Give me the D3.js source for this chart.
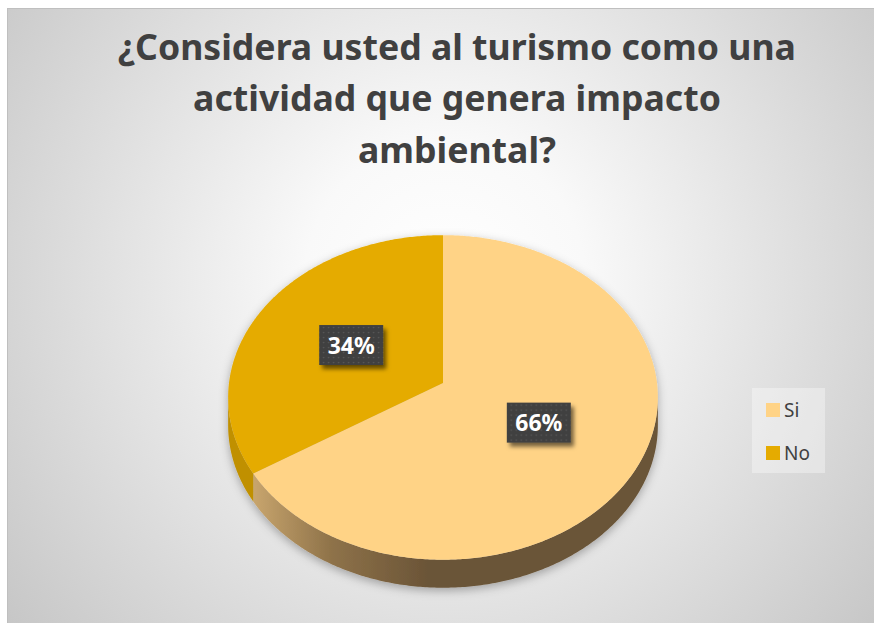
<!DOCTYPE html>
<html>
<head>
<meta charset="utf-8">
<script src="https://cdn.jsdelivr.net/npm/d3@7"></script>
<style>
  body { margin: 0; background: #fff; }
  svg { display: block; }
</style>
</head>
<body>
<div id="chart"></div>
<script>
// data
var categories = ["Si", "No"];
var values = [66, 34];
var titleLines = ["¿Considera usted al turismo como una", "actividad que genera impacto", "ambiental?"];

var width = 874, height = 623;

var svg = d3.select("#chart")
  .append("svg")
    .attr("width", width)
    .attr("height", height);

var defs = svg.append("defs");

// grey radial background like the excel chart area
var bg = defs.append("radialGradient")
    .attr("id", "bg")
    .attr("gradientUnits", "userSpaceOnUse")
    .attr("cx", 445).attr("cy", 280).attr("r", 560);
bg.append("stop").attr("offset", 0).attr("stop-color", "#ffffff");
bg.append("stop").attr("offset", 0.25).attr("stop-color", "#f9f9f9");
bg.append("stop").attr("offset", 0.72).attr("stop-color", "#d9d9d9");
bg.append("stop").attr("offset", 1).attr("stop-color", "#c6c6c6");

// brown side of the big slice
var sideGrad = defs.append("linearGradient")
    .attr("id", "sideSi")
    .attr("gradientUnits", "userSpaceOnUse")
    .attr("x1", 252).attr("x2", 430).attr("y1", 0).attr("y2", 0);
sideGrad.append("stop").attr("offset", 0).attr("stop-color", "#c9a66e");
sideGrad.append("stop").attr("offset", 0.45).attr("stop-color", "#8e7249");
sideGrad.append("stop").attr("offset", 1).attr("stop-color", "#6a5437");

var pieShadow = defs.append("filter").attr("id", "pieShadow")
    .attr("x", "-10%").attr("y", "-10%").attr("width", "120%").attr("height", "130%");
pieShadow.append("feDropShadow")
    .attr("dx", 0).attr("dy", 3).attr("stdDeviation", 5)
    .attr("flood-color", "#000").attr("flood-opacity", 0.3);

var boxShadow = defs.append("filter").attr("id", "boxShadow")
    .attr("x", "-20%").attr("y", "-20%").attr("width", "150%").attr("height", "160%");
boxShadow.append("feDropShadow")
    .attr("dx", 3).attr("dy", 4).attr("stdDeviation", 2)
    .attr("flood-color", "#000").attr("flood-opacity", 0.55);

var dots = defs.append("pattern").attr("id", "dots")
    .attr("patternUnits", "userSpaceOnUse")
    .attr("width", 5).attr("height", 5);
dots.append("rect").attr("width", 5).attr("height", 5).attr("fill", "#404040");
dots.append("circle").attr("cx", 2.5).attr("cy", 2.5).attr("r", 0.8).attr("fill", "#585858");

// chart area
svg.append("rect")
    .attr("x", 7.5).attr("y", 8.5)
    .attr("width", width).attr("height", height)
    .attr("fill", "url(#bg)")
    .attr("stroke", "#bfbfbf");

// title
var title = svg.append("g")
    .attr("font-family", "'Noto Sans', sans-serif")
    .attr("font-weight", "bold")
    .attr("fill", "#404040")
    .attr("text-anchor", "middle");

var titleBase = [60, 111, 163];
var titleText = title.selectAll("text")
  .data(titleLines)
  .enter()
  .append("text")
    .attr("x", 457)
    .attr("y", function(d, i) { return titleBase[i]; })
    .attr("font-size", 100)
    .text(function(d) { return d; });

// fit first line to the reference width
var w0 = titleText.node().getComputedTextLength();
titleText.attr("font-size", 100 * 678 / w0);

// 3d pie geometry (perspective tilt)
var color = d3.scaleOrdinal().domain(categories).range(["#ffd386", "#e5ab00"]);
var sideColor = d3.scaleOrdinal().domain(categories).range(["url(#sideSi)", "#c09000"]);

var cx = 443, cy = 383, Rx = 214, Ry = 161, k = 0.089, depth = 28;

function proj(f, a) {
  var u = Math.sin(a), v = -Math.cos(a);
  var w = 1 - k * f * v;
  return [cx + Rx * f * u / w, cy + Ry * f * v / w];
}

function arcPoints(a0, a1) {
  var n = Math.max(2, Math.ceil((a1 - a0) / 0.01));
  return d3.range(n + 1).map(function(i) { return proj(1, a0 + (a1 - a0) * i / n); });
}

var pie = d3.pie().sort(null).value(function(d) { return d.value; });
var slices = pie(categories.map(function(c, i) { return {name: c, value: values[i]}; }));
var total = d3.sum(values);

var line = d3.line();

// visible front part of the rim
var aL = Math.acos(-k), aR = 2 * Math.PI - aL;

var pieG = svg.append("g").attr("filter", "url(#pieShadow)");

pieG.selectAll(".side")
  .data(slices)
  .enter()
  .append("path")
    .attr("class", "side")
    .attr("fill", function(d) { return sideColor(d.data.name); })
    .attr("d", function(d) {
      var s = Math.max(d.startAngle, aL), e = Math.min(d.endAngle, aR);
      if (s >= e) return null;
      var top = arcPoints(s, e);
      var bottom = top.map(function(p) { return [p[0], p[1] + depth]; }).reverse();
      return line(top.concat(bottom)) + "Z";
    });

pieG.selectAll(".top")
  .data(slices)
  .enter()
  .append("path")
    .attr("class", "top")
    .attr("fill", function(d) { return color(d.data.name); })
    .attr("d", function(d) {
      return line([proj(0, 0)].concat(arcPoints(d.startAngle, d.endAngle))) + "Z";
    });

// data labels
var fmt = d3.format(".0%");
var labels = svg.selectAll(".lbl")
  .data(slices)
  .enter()
  .append("g")
    .attr("class", "lbl")
    .attr("transform", function(d) {
      var p = proj(0.5, (d.startAngle + d.endAngle) / 2);
      return "translate(" + p[0] + "," + p[1] + ")";
    });

labels.append("rect")
    .attr("x", -32).attr("y", -20)
    .attr("width", 64).attr("height", 40)
    .attr("fill", "url(#dots)")
    .attr("filter", "url(#boxShadow)");

labels.append("text")
    .attr("text-anchor", "middle")
    .attr("y", 8.5)
    .attr("font-family", "'Noto Sans', sans-serif")
    .attr("font-weight", "bold")
    .attr("font-size", 23)
    .attr("fill", "#fff")
    .text(function(d) { return fmt(d.data.value / total); });

// legend
var legend = svg.append("g").attr("transform", "translate(752,388)");
legend.append("rect")
    .attr("width", 73).attr("height", 85)
    .attr("fill", "#fff").attr("fill-opacity", 0.35);

var items = legend.selectAll(".item")
  .data(categories)
  .enter()
  .append("g")
    .attr("class", "item")
    .attr("transform", function(d, i) { return "translate(14," + (15 + i * 43) + ")"; });

items.append("rect")
    .attr("width", 14).attr("height", 14)
    .attr("fill", function(d) { return color(d); });

items.append("text")
    .attr("x", 18).attr("y", 14)
    .attr("font-family", "'Noto Sans', sans-serif")
    .attr("font-size", 19)
    .attr("fill", "#404040")
    .text(function(d) { return d; });
</script>
</body>
</html>
